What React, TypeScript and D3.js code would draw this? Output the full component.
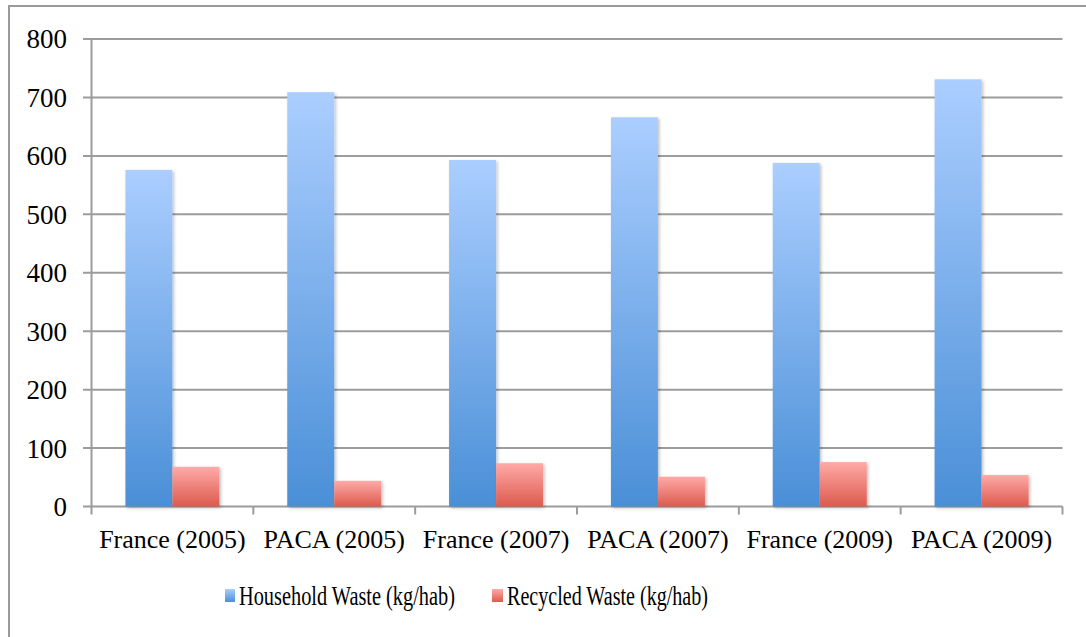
import React from "react";
import * as d3 from "d3";

const categories = ["France (2005)", "PACA (2005)", "France (2007)", "PACA (2007)", "France (2009)", "PACA (2009)"];
const household = [576, 709, 593, 666, 588, 731];
const recycled = [68, 44, 74, 51, 76, 54];
const seriesNames = ["Household Waste (kg/hab)", "Recycled Waste (kg/hab)"];
const yTicks = [0, 100, 200, 300, 400, 500, 600, 700, 800];

const W = 1086, H = 637;
const left = 91.5, right = 1062.5, top = 39, bottom = 506.5;

export default function App() {
  const x = d3.scaleBand<string>().domain(categories).range([left, right]).paddingInner(0).paddingOuter(0);
  const y = d3.scaleLinear().domain([0, 800]).range([bottom, top]);
  const bw = x.bandwidth();
  const barW = 47;
  const off = (bw - 2 * barW) / 2;
  const series = [household, recycled];
  const fills = ["url(#gBlue)", "url(#gRed)"];
  const font = "'Liberation Serif', serif";
  return (
    <svg width={W} height={H} style={{ position: "absolute", left: 0, top: 0, background: "#fff" }}>
      <defs>
        <linearGradient id="gBlue" x1="0" y1="0" x2="0" y2="1">
          <stop offset="0" stopColor="#abceff" />
          <stop offset="1" stopColor="#4a8fd7" />
        </linearGradient>
        <linearGradient id="gRed" x1="0" y1="0" x2="0" y2="1">
          <stop offset="0" stopColor="#ffaaa7" />
          <stop offset="1" stopColor="#dc5a4e" />
        </linearGradient>
        <filter id="shadow" x="-20%" y="-5%" width="140%" height="115%">
          <feDropShadow dx="1.5" dy="1.5" stdDeviation="1.8" floodColor="#000" floodOpacity="0.25" />
        </filter>
      </defs>
      <rect x={9} y={6} width={1200} height={800} fill="#fff" stroke="#9a9a9a" strokeWidth={2} />
      {yTicks.map((t) => (
        <g key={t}>
          <line x1={83} x2={right} y1={y(t)} y2={y(t)} stroke="#9c9c9c" strokeWidth={2} />
          <text x={67} y={y(t)} dy="0.35em" textAnchor="end" fontFamily={font} fontSize={27} fill="#000">{t}</text>
        </g>
      ))}
      <line x1={left} x2={left} y1={top} y2={bottom + 8} stroke="#9c9c9c" strokeWidth={2} />
      {categories.map((c) => (
        <line key={c} x1={x(c)! + bw} x2={x(c)! + bw} y1={bottom} y2={bottom + 8} stroke="#9c9c9c" strokeWidth={2} />
      ))}
      {series.map((vals, s) => (
        <g key={s} filter="url(#shadow)">
          {categories.map((c, i) => (
            <rect key={c} x={x(c)! + off + s * barW} y={y(vals[i])} width={barW} height={bottom - y(vals[i])} fill={fills[s]} />
          ))}
        </g>
      ))}
      {categories.map((c) => (
        <text key={c} x={x(c)! + bw / 2} y={548} textAnchor="middle" fontFamily={font} fontSize={26} fill="#000">{c}</text>
      ))}
      <rect x={225} y={589} width={10} height={13} fill="url(#gBlue)" />
      <text x={239} y={605} fontFamily={font} fontSize={27} textLength={216} lengthAdjust="spacingAndGlyphs">{seriesNames[0]}</text>
      <rect x={492} y={589} width={11} height={13} fill="url(#gRed)" />
      <text x={507} y={605} fontFamily={font} fontSize={27} textLength={201} lengthAdjust="spacingAndGlyphs">{seriesNames[1]}</text>
    </svg>
  );
}
